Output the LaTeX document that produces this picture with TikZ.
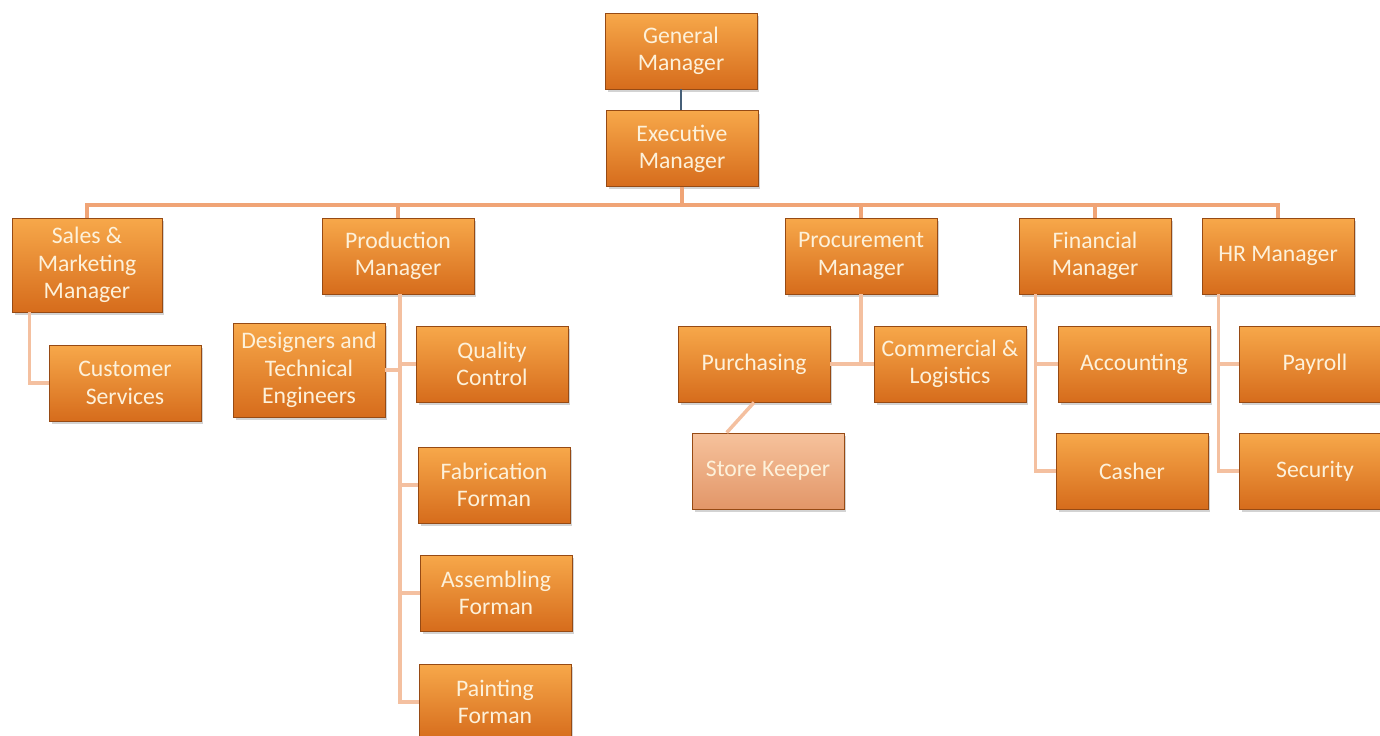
\documentclass[tikz,border=0pt]{standalone}
\usepackage{fontspec}
\setmainfont{Carlito}
\usepackage{tikz}
\usetikzlibrary{positioning,calc,shadows}
\definecolor{boxtop}{RGB}{247,168,74}
\definecolor{boxbot}{RGB}{214,108,28}
\definecolor{boxedge}{RGB}{150,74,20}
\definecolor{boxtext}{RGB}{253,241,218}
\definecolor{paletop}{RGB}{246,194,156}
\definecolor{palebot}{RGB}{226,150,104}
\definecolor{busline}{RGB}{240,164,118}
\definecolor{subline}{RGB}{244,192,160}
\definecolor{topline}{RGB}{70,95,120}

\begin{document}
\begin{tikzpicture}[x=0.02cm,y=-0.02cm,
    unit/.style={rectangle,draw=boxedge,line width=0.5pt,top color=boxtop,bottom color=boxbot,
      text=boxtext,align=center,font=\fontsize{13.5}{15.5}\selectfont,
      minimum width=3.04cm,minimum height=1.52cm,inner sep=1pt,
      drop shadow={shadow xshift=0.5mm,shadow yshift=-0.6mm,opacity=0.35}},
    tall/.style={unit,minimum height=1.88cm},
    pale/.style={unit,top color=paletop,bottom color=palebot},
    bus/.style={busline,line width=2.3pt},
    twig/.style={subline,line width=2pt}]
  \useasboundingbox (0,0) rectangle (1380,736);
  % boxes
  \node[unit] (gm) at (681,51) {General\\Manager};
  \node[unit] (em) at (682,148.5) {Executive\\Manager};
  \node[tall,minimum width=3.0cm] (sales) at (87,265) {Sales \&\\Marketing\\Manager};
  \node[unit] (prod) at (398,256) {Production\\Manager};
  \node[unit] (proc) at (861,256) {Procurement\\Manager};
  \node[unit] (fin) at (1095,256) {Financial\\Manager};
  \node[unit] (hr) at (1278,256) {HR Manager};
  \node[unit] (cust) at (125,383) {Customer\\Services};
  \node[tall] (des) at (309,370) {Designers and\\Technical\\Engineers};
  \node[unit] (qc) at (492,364) {Quality\\Control};
  \node[unit] (fab) at (494,485) {Fabrication\\Forman};
  \node[unit] (asm) at (496,593) {Assembling\\Forman};
  \node[unit] (paint) at (495,702) {Painting\\Forman};
  \node[unit] (purch) at (754,364) {Purchasing};
  \node[unit] (comm) at (950,364) {Commercial \&\\Logistics};
  \node[pale] (store) at (768,471) {Store Keeper};
  \node[unit] (acc) at (1134,364) {Accounting};
  \node[unit] (cash) at (1132,471) {Casher};
  \node[unit] (pay) at (1315,364) {Payroll};
  \node[unit] (sec) at (1315,471) {Security};
  % connectors
  \draw[topline,line width=0.6pt] (gm.south) -- (gm.south |- em.north);
  \coordinate (bus) at ($(em.south)+(0,18)$);
  \draw[bus] (sales.north) -- (sales.north |- bus) -- (hr.north |- bus) -- (hr.north);
  \draw[bus] (em.south) -- (bus);
  \foreach \n in {prod,proc,fin} \draw[bus] (\n.north) -- (\n.north |- bus);
  \draw[twig] ($(sales.south west)+(18,0)$) |- (cust.west);
  \draw[twig] ([xshift=0.04cm]prod.south) |- (des.east);
  \foreach \c in {qc,fab,asm,paint}
    \draw[twig] ([xshift=0.04cm]prod.south) |- (\c.west);
  \draw[twig] (proc.south) |- (purch.east);
  \draw[twig] (proc.south) |- (comm.west);
  \draw[twig] (purch.south) -- ($(store.north west)!0.23!(store.north east)$);
  \foreach \c in {acc,cash}
    \draw[twig] ($(fin.south west)+(17,0)$) |- (\c.west);
  \foreach \c in {pay,sec}
    \draw[twig] ($(hr.south west)+(17,0)$) |- (\c.west);
\end{tikzpicture}
\end{document}
